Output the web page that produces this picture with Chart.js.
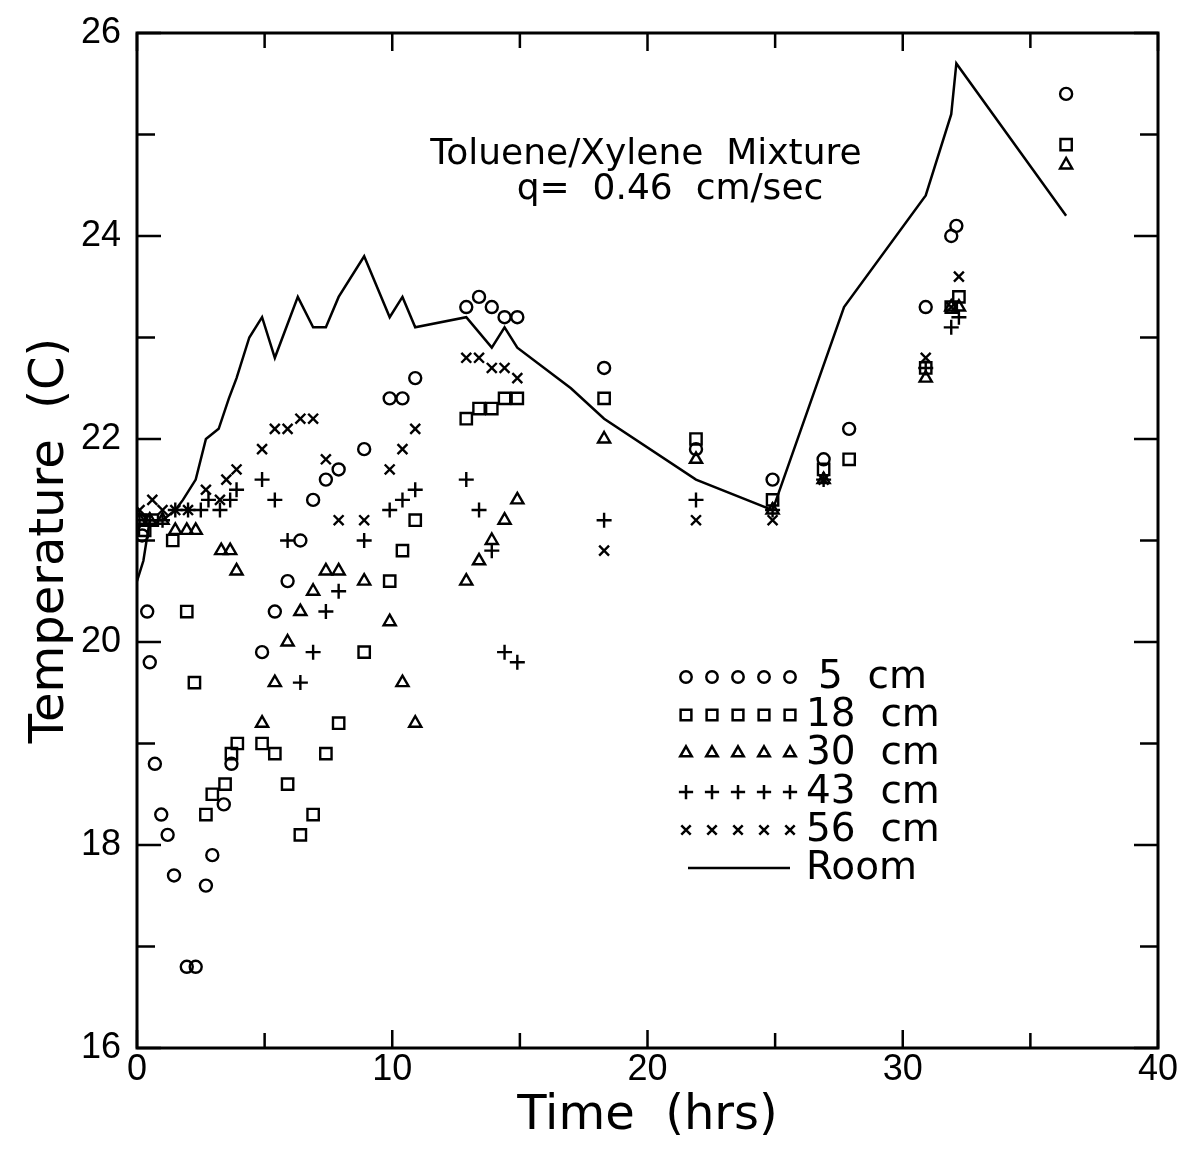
<!DOCTYPE html>
<html>
<head>
<meta charset="utf-8">
<script src="https://cdn.jsdelivr.net/npm/chart.js@4.4.0/dist/chart.umd.min.js"></script>
<style>
  body { margin: 0; background: #fff; }
  #wrap { width: 1186px; height: 1153px; }
</style>
</head>
<body>
<div id="wrap"><canvas id="tempChart" width="1186" height="1153"></canvas></div>
<script>
// times in hours, temperatures in C
const t5 = [0.1, 0.2, 0.4, 0.5, 0.7, 0.95, 1.2, 1.45, 1.95, 2.3, 2.7, 2.95, 3.4, 3.7, 4.9, 5.4, 5.9, 6.4, 6.9, 7.4, 7.9, 8.9, 9.9, 10.4, 10.9, 12.9, 13.4, 13.9, 14.4, 14.9, 18.3, 21.9, 24.9, 26.9, 27.9, 30.9, 31.9, 32.1, 36.4];
const temp5 = [21.2, 21.05, 20.3, 19.8, 18.8, 18.3, 18.1, 17.7, 16.8, 16.8, 17.6, 17.9, 18.4, 18.8, 19.9, 20.3, 20.6, 21.0, 21.4, 21.6, 21.7, 21.9, 22.4, 22.4, 22.6, 23.3, 23.4, 23.3, 23.2, 23.2, 22.7, 21.9, 21.6, 21.8, 22.1, 23.3, 24.0, 24.1, 25.4];

const t18 = [0.1, 0.3, 0.6, 1.4, 1.95, 2.25, 2.7, 2.95, 3.45, 3.7, 3.93, 4.9, 5.4, 5.9, 6.4, 6.9, 7.4, 7.9, 8.9, 9.9, 10.4, 10.9, 12.9, 13.4, 13.9, 14.4, 14.9, 18.3, 21.9, 24.9, 26.9, 27.9, 30.9, 31.9, 32.2, 36.4];
const temp18 = [21.2, 21.1, 21.2, 21.0, 20.3, 19.6, 18.3, 18.5, 18.6, 18.9, 19.0, 19.0, 18.9, 18.6, 18.1, 18.3, 18.9, 19.2, 19.9, 20.6, 20.9, 21.2, 22.2, 22.3, 22.3, 22.4, 22.4, 22.4, 22.0, 21.4, 21.7, 21.8, 22.7, 23.3, 23.4, 24.9];

const t30 = [0.1, 0.5, 1.0, 1.5, 1.95, 2.3, 3.3, 3.65, 3.9, 4.9, 5.4, 5.9, 6.4, 6.9, 7.4, 7.9, 8.9, 9.9, 10.4, 10.9, 12.9, 13.4, 13.9, 14.4, 14.9, 18.3, 21.9, 24.9, 26.9, 30.9, 31.9, 32.2, 36.4];
const temp30 = [21.2, 21.2, 21.2, 21.1, 21.1, 21.1, 20.9, 20.9, 20.7, 19.2, 19.6, 20.0, 20.3, 20.5, 20.7, 20.7, 20.6, 20.2, 19.6, 19.2, 20.6, 20.8, 21.0, 21.2, 21.4, 22.0, 21.8, 21.3, 21.6, 22.6, 23.3, 23.3, 24.7];

const t43 = [0.1, 0.5, 1.0, 1.5, 2.0, 2.5, 2.8, 3.25, 3.65, 3.9, 4.9, 5.4, 5.9, 6.4, 6.9, 7.4, 7.9, 8.9, 9.9, 10.4, 10.9, 12.9, 13.4, 13.9, 14.4, 14.9, 18.3, 21.9, 24.9, 26.9, 30.9, 31.9, 32.2];
const temp43 = [21.2, 21.2, 21.2, 21.3, 21.3, 21.3, 21.4, 21.3, 21.4, 21.5, 21.6, 21.4, 21.0, 19.6, 19.9, 20.3, 20.5, 21.0, 21.3, 21.4, 21.5, 21.6, 21.3, 20.9, 19.9, 19.8, 21.2, 21.4, 21.3, 21.6, 22.7, 23.1, 23.2];

const t56 = [0.1, 0.6, 1.0, 1.5, 2.0, 2.7, 3.25, 3.5, 3.9, 4.9, 5.4, 5.9, 6.4, 6.9, 7.4, 7.9, 8.9, 9.9, 10.4, 10.9, 12.9, 13.4, 13.9, 14.4, 14.9, 18.3, 21.9, 24.9, 26.9, 30.9, 31.9, 32.2];
const temp56 = [21.3, 21.4, 21.3, 21.3, 21.3, 21.5, 21.4, 21.6, 21.7, 21.9, 22.1, 22.1, 22.2, 22.2, 21.8, 21.2, 21.2, 21.7, 21.9, 22.1, 22.8, 22.8, 22.7, 22.7, 22.6, 20.9, 21.2, 21.2, 21.6, 22.8, 23.3, 23.6];

const tRoom = [0, 0.25, 0.5, 1.0, 1.5, 1.8, 2.3, 2.7, 3.2, 3.6, 3.9, 4.4, 4.9, 5.4, 6.3, 6.9, 7.4, 7.9, 8.9, 9.9, 10.4, 10.9, 12.9, 13.9, 14.4, 14.9, 17.0, 18.3, 21.9, 24.9, 27.7, 30.9, 31.9, 32.1, 36.4];
const tempRoom = [20.6, 20.8, 21.2, 21.2, 21.3, 21.4, 21.6, 22.0, 22.1, 22.4, 22.6, 23.0, 23.2, 22.8, 23.4, 23.1, 23.1, 23.4, 23.8, 23.2, 23.4, 23.1, 23.2, 22.9, 23.1, 22.9, 22.5, 22.2, 21.6, 21.3, 23.3, 24.4, 25.2, 25.7, 24.2];

const xTicks = [0, 5, 10, 15, 20, 25, 30, 35, 40];
const yTicks = [16, 17, 18, 19, 20, 21, 22, 23, 24, 25, 26];

const titleLines = ['Toluene/Xylene  Mixture', 'q=  0.46  cm/sec'];

const FONT = "'Liberation Sans', Arial, sans-serif";
const WIDE = "'DejaVu Sans', Verdana, sans-serif";

function pts(xs, ys) {
  return xs.map((x, i) => ({ x: x, y: ys[i] }));
}

const markerStyles = [
  { label: '5 cm', pointStyle: 'circle', radius: 6 },
  { label: '18 cm', pointStyle: 'rect', radius: 8 },
  { label: '30 cm', pointStyle: 'triangle', radius: 7 },
  { label: '43 cm', pointStyle: 'cross', radius: 7.5 },
  { label: '56 cm', pointStyle: 'crossRot', radius: 7 }
];
const seriesData = [pts(t5, temp5), pts(t18, temp18), pts(t30, temp30), pts(t43, temp43), pts(t56, temp56)];

const datasets = markerStyles.map((m, i) => ({
  label: m.label,
  data: seriesData[i],
  showLine: false,
  pointStyle: m.pointStyle,
  pointRadius: m.radius,
  pointBorderWidth: 2.4,
  pointBorderColor: '#000',
  pointBackgroundColor: 'rgba(0,0,0,0)'
}));
datasets.push({
  label: 'Room',
  data: pts(tRoom, tempRoom),
  showLine: true,
  borderColor: '#000',
  borderWidth: 2.5,
  pointRadius: 0,
  tension: 0
});

// frame, inward ticks, annotation text and the legend
const decorPlugin = {
  id: 'decor',
  afterDraw(chart) {
    const ctx = chart.ctx;
    const a = chart.chartArea;
    const xs = chart.scales.x, ys = chart.scales.y;
    ctx.save();
    ctx.strokeStyle = '#000';
    ctx.lineWidth = 3;
    ctx.strokeRect(a.left, a.top, a.right - a.left, a.bottom - a.top);

    ctx.lineWidth = 2.5;
    ctx.beginPath();
    xTicks.forEach(v => {
      const px = xs.getPixelForValue(v);
      const len = v % 10 === 0 ? 18 : 15;
      ctx.moveTo(px, a.bottom); ctx.lineTo(px, a.bottom - len);
      ctx.moveTo(px, a.top); ctx.lineTo(px, a.top + len);
    });
    yTicks.forEach(v => {
      const py = ys.getPixelForValue(v);
      const len = v % 2 === 0 ? 24 : 18;
      ctx.moveTo(a.left, py); ctx.lineTo(a.left + len, py);
      ctx.moveTo(a.right, py); ctx.lineTo(a.right - len, py);
    });
    ctx.stroke();

    // annotation
    ctx.fillStyle = '#000';
    ctx.font = '36px ' + WIDE;
    ctx.textAlign = 'center';
    ctx.textBaseline = 'middle';
    ctx.fillText(titleLines[0], a.left + 509, a.top + 122);
    ctx.fillText(titleLines[1], a.left + 533, a.top + 157);

    // legend
    const rowY = [677, 715, 753, 792, 830, 868];
    const mx = [686, 712, 738, 764, 790];
    markerStyles.forEach((m, i) => {
      mx.forEach(x => {
        ctx.fillStyle = 'rgba(0,0,0,0)';
        ctx.lineWidth = 2.5;
        Chart.helpers.drawPoint(ctx, { pointStyle: m.pointStyle, radius: m.radius * 0.95, borderWidth: 2.5, rotation: 0 }, x, rowY[i]);
      });
    });
    ctx.lineWidth = 2.5;
    ctx.beginPath();
    ctx.moveTo(688, rowY[5]); ctx.lineTo(790, rowY[5]);
    ctx.stroke();

    ctx.fillStyle = '#000';
    ctx.font = '39px ' + WIDE;
    ctx.textAlign = 'left';
    ctx.textBaseline = 'middle';
    const labels = markerStyles.map(m => m.label.replace(' ', '  ')).concat(['Room']);
    labels.forEach((s, i) => {
      const x = i === 0 ? 818 : 806;
      ctx.fillText(s, x, rowY[i] + 1);
    });
    ctx.restore();
  }
};

new Chart(document.getElementById('tempChart'), {
  type: 'scatter',
  data: { datasets: datasets },
  options: {
    responsive: false,
    animation: false,
    layout: { padding: { top: 33, right: 28, left: 0, bottom: 0 } },
    plugins: { legend: { display: false }, tooltip: { enabled: false } },
    scales: {
      x: {
        type: 'linear',
        min: 0, max: 40,
        grid: { display: false },
        border: { display: false },
        afterFit: s => { s.height = 105; },
        afterBuildTicks: s => { s.ticks = xTicks.map(v => ({ value: v })); },
        ticks: {
          color: '#000',
          font: { family: FONT, size: 36 },
          padding: -8,
          maxRotation: 0,
          autoSkip: false,
          callback: v => (v % 10 === 0 ? String(v) : '')
        },
        title: {
          display: true,
          text: 'Time  (hrs)',
          color: '#000',
          font: { family: WIDE, size: 48 },
          padding: { top: 0, bottom: 8 }
        }
      },
      y: {
        min: 16, max: 26,
        grid: { display: false },
        border: { display: false },
        afterFit: s => { s.width = 137; },
        afterBuildTicks: s => { s.ticks = yTicks.map(v => ({ value: v })); },
        ticks: {
          color: '#000',
          font: { family: FONT, size: 36 },
          padding: 8,
          autoSkip: false,
          callback: v => (v % 2 === 0 ? String(v) : '')
        },
        title: {
          display: true,
          text: 'Temperature  (C)',
          color: '#000',
          font: { family: WIDE, size: 48 },
          padding: { top: 22, bottom: 0 }
        }
      }
    }
  },
  plugins: [decorPlugin]
});
</script>
</body>
</html>
